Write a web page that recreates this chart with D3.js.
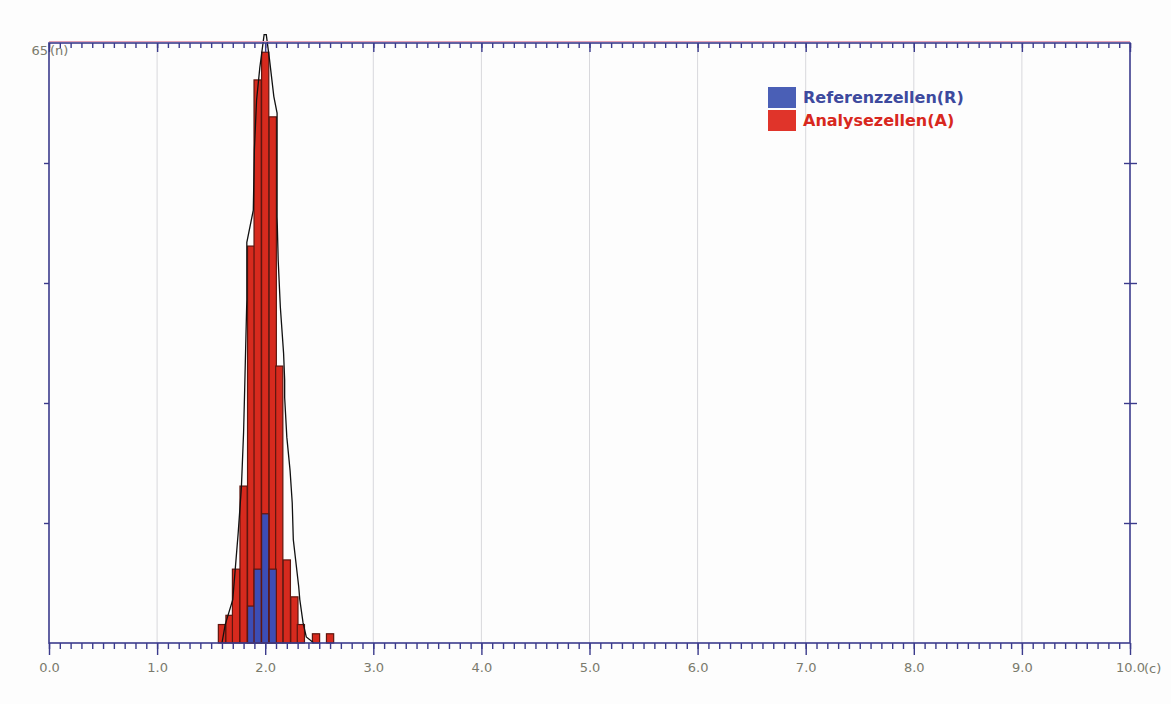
<!DOCTYPE html>
<html>
<head>
<meta charset="utf-8">
<script src="https://cdn.jsdelivr.net/npm/d3@7"></script>
<style>
  body { margin: 0; background: #fdfdfd; }
  svg { display: block; }
</style>
</head>
<body>
<svg id="chart" width="1171" height="704"></svg>
<script>
// histogram bins (centre of each bin, in c)
var binCenters = [1.60, 1.67, 1.73, 1.80, 1.87, 1.93, 2.00, 2.07, 2.13, 2.20, 2.27, 2.33, 2.40, 2.47, 2.53, 2.60];
var binWidth = 0.0667;
var analyseCounts = [2, 3, 8, 17, 43, 61, 64, 57, 30, 9, 5, 2, 0, 1, 0, 1];   // Analysezellen(A)
var referenzCounts = [0, 0, 0, 0, 4, 8, 14, 8, 0, 0, 0, 0, 0, 0, 0, 0];     // Referenzzellen(R)

// black envelope line
var envelopeX = [1.60, 1.63, 1.70, 1.75, 1.78, 1.80, 1.81, 1.83, 1.83, 1.89, 1.90, 1.92, 1.95, 1.99, 2.01,
                 2.04, 2.08, 2.11, 2.11, 2.12, 2.14, 2.17, 2.18, 2.18, 2.20, 2.23, 2.25, 2.26, 2.31, 2.32, 2.35, 2.38, 2.45];
var envelopeN = [0, 2.0, 4.7, 11.9, 16.9, 22.8, 27.4, 37.2, 43.4, 46.9, 53.4, 58.8, 62.3, 65.9, 65.9,
                 63.2, 59.2, 57.4, 46.2, 41.5, 36.4, 31.4, 28.5, 26.6, 22.3, 18.7, 15.2, 11.2, 6.1, 4.7, 2.2, 0.65, 0];

var xMajor = [0, 1, 2, 3, 4, 5, 6, 7, 8, 9, 10];
var yTicks = [13, 26, 39, 52];
var yMax = 65;

var legendNames = ["Referenzzellen(R)", "Analysezellen(A)"];
var legendColors = ["#4a5fb6", "#e0342a"];
var legendText = ["#3d4a9e", "#d8281e"];

var svg = d3.select("#chart");
var mLeft = 49, mRight = 1130, mTop = 43, mBottom = 643;
var frame = "#3b3b8c";
var labelFont = "DejaVu Sans, sans-serif";

var x = d3.scaleLinear().domain([0, 10]).range([mLeft, mRight]);
var y = d3.scaleLinear().domain([0, yMax]).range([mBottom, mTop]);

var minor = d3.range(0, 101).map(function(i) { return i / 10; });

// vertical grid
svg.append("g").selectAll("line")
  .data(xMajor.slice(1, -1))
  .enter().append("line")
  .attr("x1", function(d) { return x(d); })
  .attr("x2", function(d) { return x(d); })
  .attr("y1", mTop).attr("y2", mBottom)
  .attr("stroke", "#d8d8dc").attr("stroke-width", 1);

// Analysezellen bars
svg.append("g").selectAll("rect")
  .data(binCenters.map(function(c, i) { return { c: c, n: analyseCounts[i] }; }).filter(function(d) { return d.n > 0; }))
  .enter().append("rect")
  .attr("x", function(d) { return x(d.c - binWidth / 2); })
  .attr("width", function(d) { return x(binWidth) - x(0); })
  .attr("y", function(d) { return y(d.n); })
  .attr("height", function(d) { return y(0) - y(d.n); })
  .attr("fill", "#d62a1e").attr("stroke", "#5e160f").attr("stroke-width", 1.2);

// Referenzzellen bars on top
svg.append("g").selectAll("rect")
  .data(binCenters.map(function(c, i) { return { c: c, n: referenzCounts[i] }; }).filter(function(d) { return d.n > 0; }))
  .enter().append("rect")
  .attr("x", function(d) { return x(d.c - binWidth / 2); })
  .attr("width", function(d) { return x(binWidth) - x(0); })
  .attr("y", function(d) { return y(d.n); })
  .attr("height", function(d) { return y(0) - y(d.n); })
  .attr("fill", "#3c4db5").attr("stroke", "#5e160f").attr("stroke-width", 1.2);

// envelope
var line = d3.line()
  .x(function(d) { return x(d[0]); })
  .y(function(d) { return y(d[1]); });
svg.append("path")
  .attr("d", line(envelopeX.map(function(v, i) { return [v, envelopeN[i]]; })))
  .attr("fill", "none").attr("stroke", "#111").attr("stroke-width", 1.3);

// frame
svg.append("line").attr("x1", mLeft).attr("x2", mRight).attr("y1", mTop - 1.5).attr("y2", mTop - 1.5)
  .attr("stroke", "#e3a0b4").attr("stroke-width", 1);
svg.append("rect").attr("x", mLeft).attr("y", mTop).attr("width", mRight - mLeft).attr("height", mBottom - mTop)
  .attr("fill", "none").attr("stroke", frame).attr("stroke-width", 1.6);

function styleAxis(g) {
  g.select(".domain").remove();
  g.selectAll(".tick line").attr("stroke", frame).attr("stroke-width", 1.4);
}

// bottom axis: minor and major ticks
svg.append("g").attr("transform", "translate(0," + mBottom + ")")
  .call(d3.axisBottom(x).tickValues(minor).tickSize(6).tickFormat(""))
  .call(styleAxis);
var bx = svg.append("g").attr("transform", "translate(0," + mBottom + ")")
  .call(d3.axisBottom(x).tickValues(xMajor).tickSize(12).tickPadding(8).tickFormat(d3.format(".1f")))
  .call(styleAxis);
bx.selectAll("text").attr("font-family", labelFont).attr("font-size", 13).attr("fill", "#7a7a6c");
svg.append("text").attr("x", x(10) + 14).attr("y", mBottom + 29.5)
  .attr("font-family", labelFont).attr("font-size", 13).attr("fill", "#7a7a6c").text("(c)");

// top axis: ticks pointing into the plot
svg.append("g").attr("transform", "translate(0," + mTop + ")")
  .call(d3.axisBottom(x).tickValues(minor).tickSize(5).tickFormat(""))
  .call(styleAxis);
svg.append("g").attr("transform", "translate(0," + mTop + ")")
  .call(d3.axisBottom(x).tickValues(xMajor).tickSize(9).tickFormat(""))
  .call(styleAxis);

// y ticks on both sides
svg.append("g").attr("transform", "translate(" + (mRight - 6) + ",0)")
  .call(d3.axisRight(y).tickValues(yTicks).tickSize(13).tickFormat(""))
  .call(styleAxis);
svg.append("g").attr("transform", "translate(" + mLeft + ",0)")
  .call(d3.axisLeft(y).tickValues(yTicks).tickSize(5).tickFormat(""))
  .call(styleAxis);

// y max label
svg.append("text").attr("x", mLeft - 1).attr("y", mTop + 12).attr("text-anchor", "end")
  .attr("font-family", labelFont).attr("font-size", 13).attr("fill", "#7a7a6c").text(yMax);
svg.append("text").attr("x", mLeft + 1).attr("y", mTop + 12)
  .attr("font-family", labelFont).attr("font-size", 13).attr("fill", "#7a7a6c").text("(n)");

// legend
var lg = svg.append("g").attr("transform", "translate(768,87)");
legendNames.forEach(function(name, i) {
  lg.append("rect").attr("x", 0).attr("y", i * 23).attr("width", 28).attr("height", 21).attr("fill", legendColors[i]);
  lg.append("text").attr("x", 35).attr("y", i * 23 + 16)
    .attr("font-family", labelFont).attr("font-weight", "bold").attr("font-size", 16)
    .attr("fill", legendText[i]).text(name);
});
</script>
</body>
</html>
